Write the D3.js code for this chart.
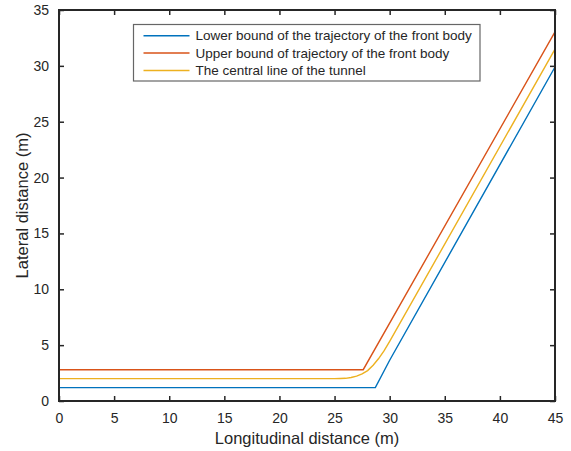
<!DOCTYPE html>
<html>
<head>
<meta charset="utf-8">
<script src="https://cdn.jsdelivr.net/npm/d3@7"></script>
<style>
  body { margin: 0; background: #fff; }
  svg text { font-family: "Liberation Sans", Arial, sans-serif; fill: #262626; }
</style>
</head>
<body>
<div id="chart"></div>
<script>
'use strict';

// values
const lowerX = [0, 28.7, 30, 45];
const lowerY = [1.2, 1.2, 3.65, 29.9];

const upperX = [0, 27.6, 45];
const upperY = [2.8, 2.8, 33.05];

const centerX = [0, 25, 25.5, 26, 26.5, 27, 27.5, 28, 28.5, 29, 29.5, 30, 45];
const centerY = [2, 2, 2.01, 2.03, 2.1, 2.22, 2.42, 2.72, 3.2, 3.8, 4.5, 5.33, 31.5];

const xTicks = [0, 5, 10, 15, 20, 25, 30, 35, 40, 45];
const yTicks = [0, 5, 10, 15, 20, 25, 30, 35];

const seriesNames = [
    "Lower bound of the trajectory of the front body",
    "Upper bound of trajectory of the front body",
    "The central line of the tunnel"
];
const seriesColors = ["#0072BD", "#D95319", "#EDB120"];

let W = 571, H = 451;
let margin = { top: 10, right: 16, bottom: 50, left: 59 };
let width = W - margin.left - margin.right;
let height = H - margin.top - margin.bottom;

let svg = d3.select("#chart").append("svg")
    .attr("width", W)
    .attr("height", H)
    .append("g")
    .attr("transform", "translate(" + margin.left + "," + margin.top + ")");

let x = d3.scaleLinear().domain([0, 45]).range([0, width]);
let y = d3.scaleLinear().domain([0, 35]).range([height, 0]);

function toPts(xs, ys) {
    return xs.map((d, i) => [d, ys[i]]);
}
let series = [toPts(lowerX, lowerY), toPts(upperX, upperY), toPts(centerX, centerY)];

let line = d3.line()
    .x(d => x(d[0]))
    .y(d => y(d[1]));

svg.selectAll(".series")
    .data(series)
    .enter().append("path")
    .attr("class", "series")
    .attr("d", line)
    .attr("fill", "none")
    .attr("stroke", (d, i) => seriesColors[i])
    .attr("stroke-width", 1.4);

// axes (ticks inside, box on all sides)
function styleAxis(g) {
    g.select(".domain").remove();
    g.selectAll(".tick line").attr("stroke", "#262626").attr("stroke-width", 1.5);
    g.selectAll(".tick text").attr("font-size", "14px").attr("fill", "#262626");
}

svg.append("g")
    .attr("transform", "translate(0," + height + ")")
    .call(d3.axisBottom(x).tickValues(xTicks).tickSizeInner(-5).tickPadding(12))
    .call(styleAxis);

svg.append("g")
    .call(d3.axisTop(x).tickValues(xTicks).tickSizeInner(-5).tickFormat(""))
    .call(styleAxis);

svg.append("g")
    .call(d3.axisLeft(y).tickValues(yTicks).tickSizeInner(-5).tickPadding(10))
    .call(styleAxis);

svg.append("g")
    .attr("transform", "translate(" + width + ",0)")
    .call(d3.axisRight(y).tickValues(yTicks).tickSizeInner(-5).tickFormat(""))
    .call(styleAxis);

svg.append("rect")
    .attr("width", width)
    .attr("height", height)
    .attr("fill", "none")
    .attr("stroke", "#262626")
    .attr("stroke-width", 2);

// axis titles
svg.append("text")
    .attr("x", width / 2)
    .attr("y", height + 43)
    .attr("font-size", "16.5px")
    .style("text-anchor", "middle")
    .text("Longitudinal distance (m)");

svg.append("text")
    .attr("transform", "rotate(-90)")
    .attr("x", -height / 2)
    .attr("y", -31)
    .attr("font-size", "16.5px")
    .style("text-anchor", "middle")
    .text("Lateral distance (m)");

// legend
let legend = svg.append("g")
    .attr("transform", "translate(" + (133.5 - margin.left) + "," + (24.5 - margin.top) + ")");

legend.append("rect")
    .attr("width", 346.5)
    .attr("height", 56.5)
    .attr("fill", "#fff")
    .attr("stroke", "#666")
    .attr("stroke-width", 1.2);

let rowY = [11.2, 28.5, 46];
seriesNames.forEach((name, i) => {
    legend.append("line")
        .attr("x1", 10).attr("x2", 56)
        .attr("y1", rowY[i]).attr("y2", rowY[i])
        .attr("stroke", seriesColors[i])
        .attr("stroke-width", 1.6);
    legend.append("text")
        .attr("x", 62)
        .attr("y", rowY[i])
        .attr("dy", "0.35em")
        .attr("font-size", "13.5px")
        .text(name);
});
</script>
</body>
</html>
